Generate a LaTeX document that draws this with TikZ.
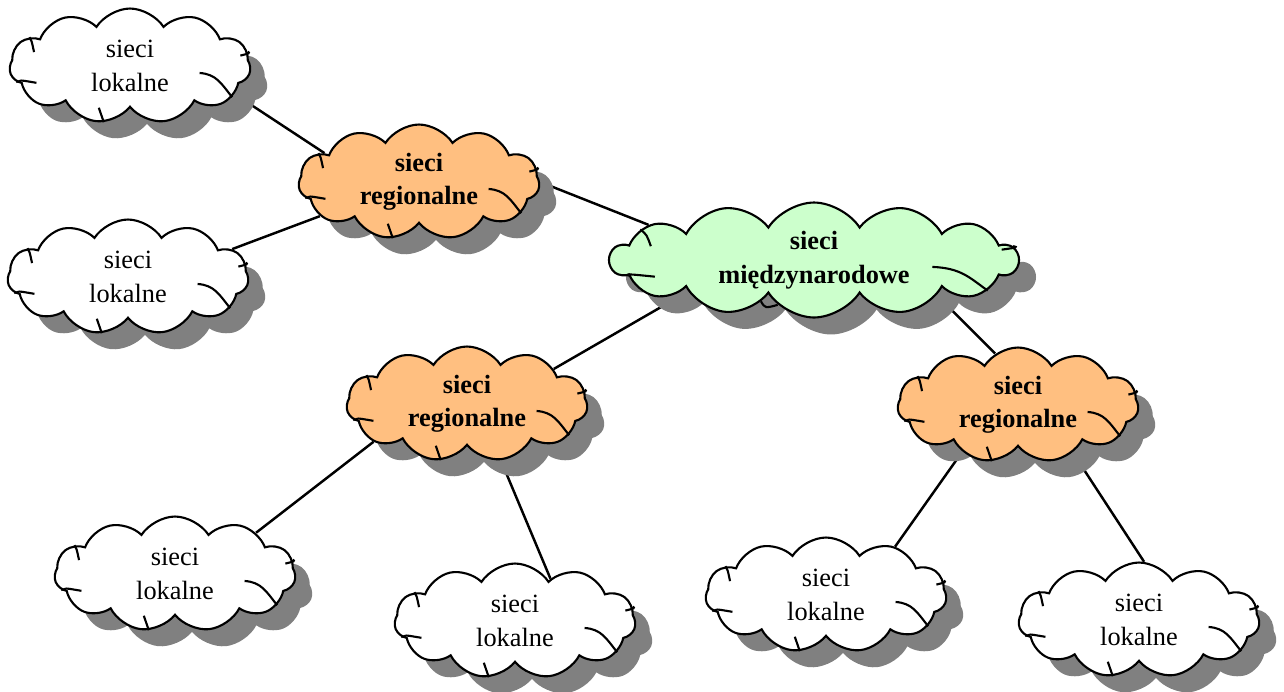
\documentclass[tikz,border=0pt]{standalone}
\usepackage{fontspec}
\setmainfont{Liberation Serif}
\usetikzlibrary{shapes.symbols, shadows, backgrounds}

\definecolor{pomarancz}{RGB}{255,191,128}
\definecolor{zielen}{RGB}{204,255,204}

% luki wewnatrz chmury: #1 wezel, #2 szerokosc, #3 wysokosc, #4 katy na brzegu
\newcommand{\wnetrze}[4]{%
	\begin{scope}[shift={(#1.center)}, x=#2, y=-#3, line width=1.2pt]
		\foreach \a/\b/\e/\f/\g in {#4} {
			\draw (#1.\a) .. controls (-0.46,0.12) .. (-0.39,0.145);
			\draw (#1.\b) .. controls (-0.41,-0.22) .. (-0.4,-0.12);
			\draw (#1.\e) .. controls (0.5,-0.11) .. (0.46,-0.09);
			\draw (0.29,0.06) .. controls (0.36,0.07) and (0.38,0.15) .. (#1.\f);
			\draw (-0.13,0.36) .. controls (-0.12,0.42) .. (#1.\g);
		}
	\end{scope}}

\begin{document}
\begin{tikzpicture}[x=0.02cm, y=-0.02cm, every node/.style={font=\fontsize{15}{19}\selectfont, align=center}]
	\tikzstyle{chmura}=[
		draw,
		line width=1.2pt,
		cloud,
		cloud puffs=11,
		cloud puff arc=115,
		cloud ignores aspect,
		minimum width=4.82cm,
		minimum height=2.3cm,
		inner sep=0pt,
		drop shadow={
			shadow xshift=0.34cm,
			shadow yshift=-0.34cm,
			opacity=1,
			fill=black!50
		}
	]
	\tikzstyle{lokalna}=[chmura, fill=white]
	\tikzstyle{regionalna}=[chmura, fill=pomarancz, font=\fontsize{15}{19}\selectfont\bfseries]
	\tikzstyle{krajowa}=[chmura, fill=zielen, font=\fontsize{15}{19}\selectfont\bfseries,
		cloud puffs=14, minimum width=8.16cm, minimum height=2.3cm]
	\tikzstyle{lacze}=[line width=1.4pt]

	\useasboundingbox (0,0) rectangle (1284,691);

	% siec miedzynarodowa
	\node (M) at (814,260) [krajowa] {sieci\\międzynarodowe};

	% sieci regionalne
	\node (R1) at (419,182) [regionalna] {sieci\\regionalne};
	\node (R2) at (467,404) [regionalna] {sieci\\regionalne};
	\node (R3) at (1018,405) [regionalna] {sieci\\regionalne};

	% sieci lokalne
	\node (L1) at (130,66) [lokalna] {sieci\\lokalne};
	\node (L2) at (128,277) [lokalna] {sieci\\lokalne};
	\node (L3) at (175,574) [lokalna] {sieci\\lokalne};
	\node (L4) at (515,621) [lokalna] {sieci\\lokalne};
	\node (L5) at (826,595) [lokalna] {sieci\\lokalne};
	\node (L6) at (1139,620) [lokalna] {sieci\\lokalne};

	\wnetrze{M}{8.16cm}{2.3cm}{185/170/4/-10/-129}
	\foreach \n in {R1,R2,R3,L1,L2,L3,L4,L5,L6}
		\wnetrze{\n}{4.8cm}{2.32cm}{188/164/7/-17/-115};

	\begin{scope}[on background layer]
		\draw [lacze] (L1.-15) -- (R1.163);
		\draw [lacze] (L2.15) -- (R1.-161);
		\draw [lacze] (R1.0) -- (M.168);
		\draw [lacze] (M.-166) -- (R2.22);
		\draw [lacze] (M.-16) -- (R3.114);
		\draw [lacze] (R2.-158) -- (L3.27);
		\draw [lacze] (R2.-59) -- (L4.50);
		\draw [lacze] (R3.-140) -- (L5.35);
		\draw [lacze] (R3.-41) -- (L6.85);
	\end{scope}
\end{tikzpicture}
\end{document}
